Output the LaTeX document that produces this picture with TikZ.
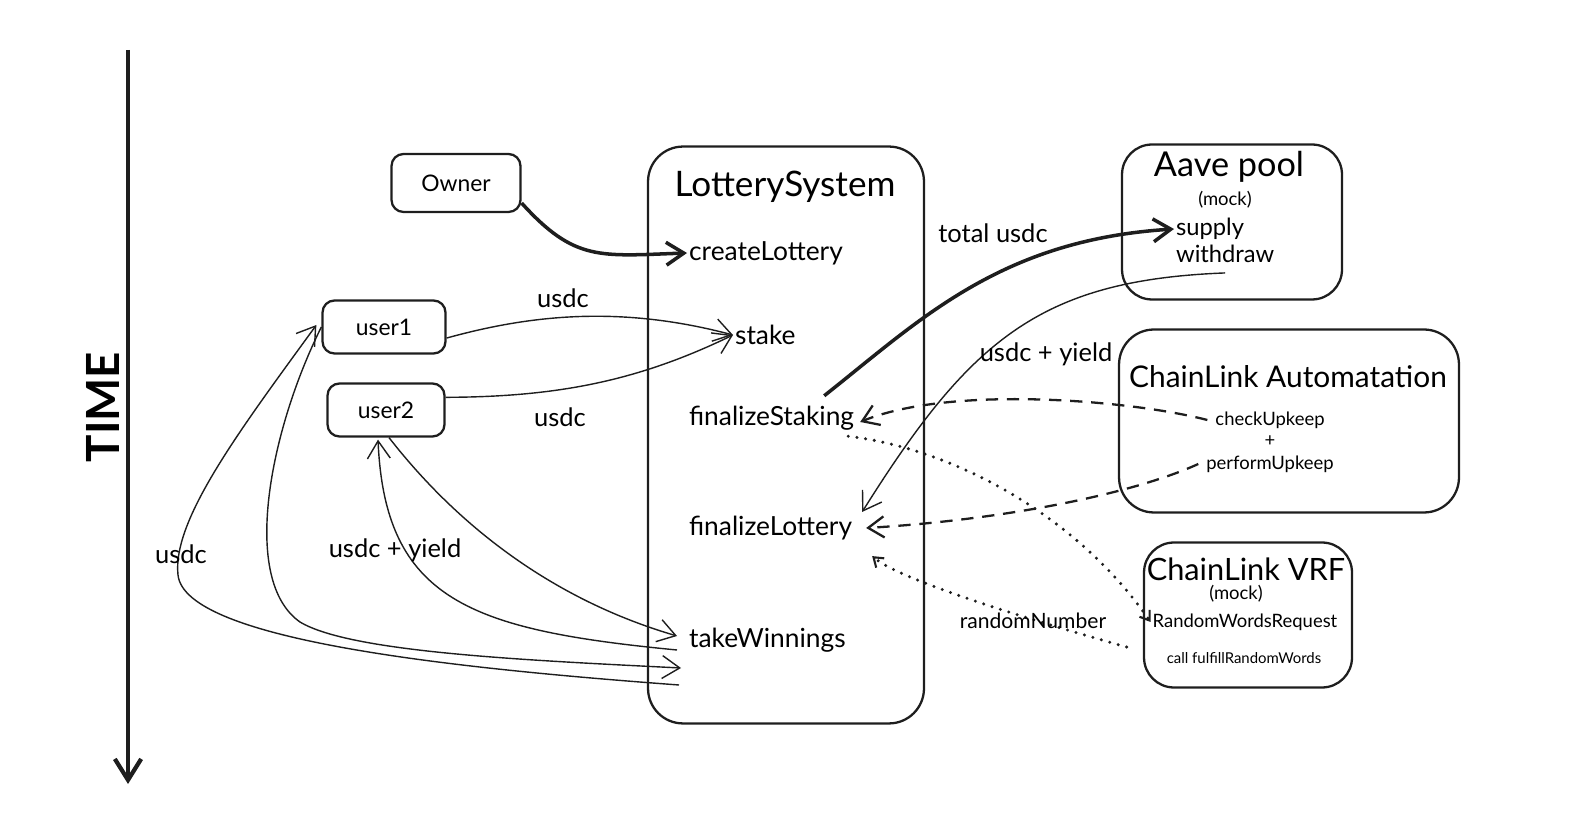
\documentclass[tikz,border=0pt]{standalone}
\usepackage{fontspec}
\setmainfont{Lato}
\usetikzlibrary{arrows.meta,calc}
\definecolor{ink}{RGB}{30,30,30}

\tikzset{
  box/.style={draw=ink, line width=1.3pt, rounded corners=0.24cm, inner sep=0pt,
    font=\fontsize{13}{15}\selectfont},
  bigbox/.style={draw=ink, line width=1.3pt, rounded corners=0.7cm, inner sep=0pt},
  fn/.style={inner sep=1pt, anchor=west, font=\fontsize{15}{17}\selectfont},
  lbl/.style={inner sep=1pt, font=\fontsize{14.5}{17}\selectfont},
  title/.style={inner sep=1pt, font=\fontsize{20}{24}\selectfont},
  small/.style={inner sep=1pt, font=\fontsize{10.5}{12}\selectfont},
  flow/.style={draw=ink, line width=0.8pt, -{Straight Barb[length=10pt,width=13pt]}},
  heavy/.style={draw=ink, line width=2pt, -{Straight Barb[length=10pt,width=13pt]}},
  upkeep/.style={draw=ink, line width=1.3pt, dash pattern=on 7pt off 5pt, -{Straight Barb[length=9pt,width=12pt]}},
  vrfcall/.style={draw=ink, line width=1.9pt, line cap=round, dash pattern=on 0pt off 5pt, -{Straight Barb[length=5pt,width=7pt,line width=1.2pt]}},
}

\begin{document}
\begin{tikzpicture}[x=0.02cm, y=-0.02cm]
  \def\colx{687};
  \useasboundingbox (0,0) rectangle (1575,830);
  %time axis
  \coordinate (t0) at (128,50);
  \coordinate (t1) at (128,784);
  \draw[draw=ink, line width=2.4pt, -{Straight Barb[length=12pt,width=15pt]}] (t0)--(t1);
  \node[rotate=90, font=\fontsize{26}{30}\selectfont\bfseries] (time) at (103,407) {TIME};
  %actors
  \node[box, minimum width=2.58cm, minimum height=1.16cm] (owner) at (456,183) {Owner};
  \node[box, minimum width=2.46cm, minimum height=1.06cm] (user1) at (384,327) {user1};
  \node[box, minimum width=2.34cm, minimum height=1.06cm] (user2) at (386,410) {user2};
  %contracts
  \node[bigbox, minimum width=5.52cm, minimum height=11.54cm] (lottery) at (786,435) {};
  \node[bigbox, rounded corners=0.6cm, minimum width=4.4cm, minimum height=3.1cm] (aave) at (1232,222) {};
  \node[bigbox, minimum width=6.8cm, minimum height=3.66cm] (auto) at (1289,421) {};
  \node[bigbox, rounded corners=0.6cm, minimum width=4.16cm, minimum height=2.9cm] (vrf) at (1248,615) {};
  %lottery functions
  \node[title] (lstitle) at (785,187) {LotterySystem};
  \node[fn] (cl) at (\colx,253) {createLottery};
  \node[fn] (stake) at (733,335) {stake};
  \node[fn] (fs) at (\colx,418) {finalizeStaking};
  \node[fn] (fl) at (\colx,528) {finalizeLottery};
  \node[fn] (tw) at (\colx,640) {takeWinnings};
  %aave
  \node[title, font=\fontsize{19.5}{23}\selectfont] (aavetitle) at (1229,167) {Aave pool};
  \node[small] (aavemock) at (1225,200) {(mock)};
  \node[fn, font=\fontsize{13.5}{16}\selectfont] (supply) at (1174,229) {supply};
  \node[fn, font=\fontsize{13.5}{16}\selectfont] (wd) at (1174,254) {withdraw};
  %automation
  \node[title, font=\fontsize{17}{21}\selectfont] (autotitle) at (1288,377) {ChainLink Automatation};
  \node[small] (cu) at (1270,420) {checkUpkeep};
  \node[small] (plus) at (1270,441) {+};
  \node[small] (pu) at (1270,464) {performUpkeep};
  %vrf
  \node[title, font=\fontsize{17.5}{21}\selectfont] (vrftitle) at (1246,569) {ChainLink VRF};
  \node[small] (vrfmock) at (1236,594) {(mock)};
  \node[small] (rwr) at (1245,622) {RandomWordsRequest};
  \node[small, font=\fontsize{8.5}{10}\selectfont] (cf) at (1244,658) {call fulfillRandomWords};
  %calls
  \draw[heavy] (owner.-17) .. controls (575,262) and (600,256) .. (cl.west);
  \draw[flow] (user1.-10) .. controls (530,315) and (620,305) .. (stake.west);
  \draw[flow] (user2.12) .. controls (560,397) and (640,380) .. (stake.west);
  \draw[heavy] ($(fs.north east)+(-32,-8)$) .. controls (920,320) and (1000,240) .. (supply.west);
  \draw[flow] ($(wd.south)+(0,8)$) .. controls (1040,280) and (970,340) .. ($(fl.north east)+(8,-2)$);
  \draw[upkeep] ($(cu.west)+(-6,0)$) .. controls (1130,400) and (950,385) .. ($(fs.east)+(4,4)$);
  \draw[upkeep] ($(pu.west)+(-6,0)$) .. controls (1130,495) and (1000,520) .. ($(fl.east)+(12,0)$);
  \draw[vrfcall] ($(fs.south east)+(-8,4)$) .. controls (960,450) and (1080,520) .. (rwr.west);
  \draw[vrfcall] ($(cf.west)+(-38,-11)$) .. controls (1030,620) and (900,580) .. ($(fl.south east)+(18,14)$);
  %payouts
  \draw[flow] ($(user2.south)+(3,0)$) .. controls (430,490) and (520,590) .. ($(tw.west)+(-10,-4)$);
  \draw[flow] ($(tw.west)+(-10,10)$) .. controls (470,630) and (385,600) .. ($(user2.south)+(-8,2)$);
  \draw[flow] (user1.west) .. controls (270,430) and (240,580) .. (300,622) .. controls (350,652) and (520,660) .. ($(tw.west)+(-6,28)$);
  \draw[flow] ($(tw.west)+(-8,45)$) .. controls (450,668) and (185,640) .. (178,575) .. controls (172,520) and (240,430) .. ($(user1.west)+(-5,-2)$);
  %labels
  \node[lbl] (l1) at (563,298) {usdc};
  \node[lbl] (l2) at (560,417) {usdc};
  \node[lbl] (l3) at (993,233) {total usdc};
  \node[lbl] (l4) at (1046,354) {usdc + yield};
  \node[lbl] (l5) at (395,550) {usdc + yield};
  \node[lbl] (l6) at (181,554) {usdc};
  \node[lbl, font=\fontsize{12}{14}\selectfont] (l7) at (1033,621) {randomNumber};
\end{tikzpicture}
\end{document}
